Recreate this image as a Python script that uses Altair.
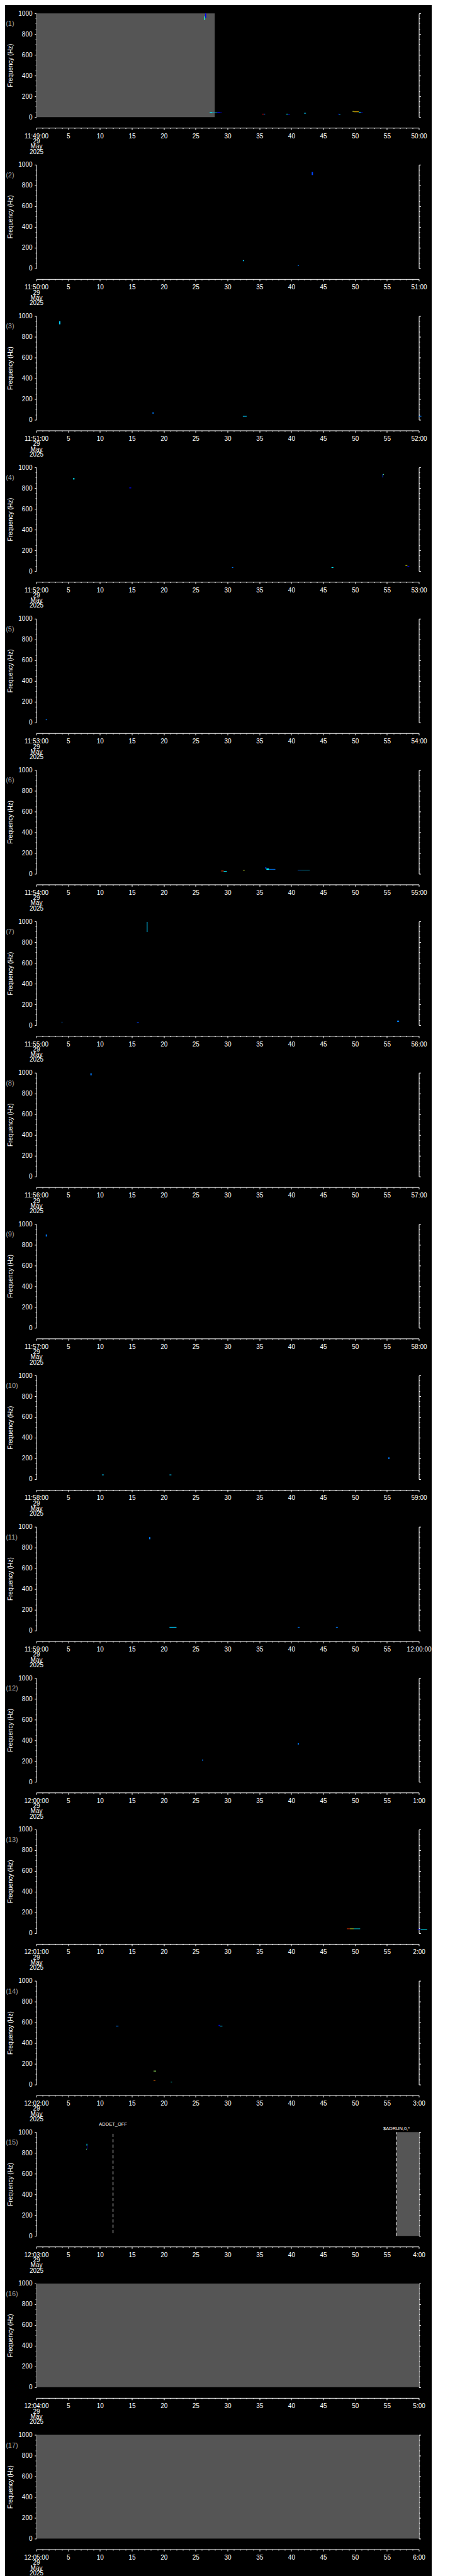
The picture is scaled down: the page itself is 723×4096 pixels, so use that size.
import json
import altair as alt
import pandas as pd

# ---------------- data ----------------
panel_starts = ["11:49:00", "11:50:00", "11:51:00", "11:52:00", "11:53:00", "11:54:00",
                "11:55:00", "11:56:00", "11:57:00", "11:58:00", "11:59:00", "12:00:00",
                "12:01:00", "12:02:00", "12:03:00", "12:04:00", "12:05:00"]
panel_ends = ["50:00", "51:00", "52:00", "53:00", "54:00", "55:00", "56:00", "57:00",
              "58:00", "59:00", "12:00:00", "1:00", "2:00", "3:00", "4:00", "5:00", "6:00"]
date_lines = ["29", "May", "2025"]

sec_ticks = list(range(0, 61))
freq_ticks = list(range(0, 1001, 50))

# grey = time span with data coverage
cover_panel = [1, 15, 16, 17]
cover_t0 = [0.0, 56.5, 0.0, 0.0]
cover_t1 = [28.0, 60.0, 60.0, 60.0]
cover_f0 = [0, 0, 0, 0]
cover_f1 = [1000, 1000, 1000, 1000]

# spectrogram specks: (panel, t0 [s], t1 [s], f0 [Hz], f1 [Hz], power level 0..1)
specks = [
    (1, 26.35, 26.50, 935, 970, 0.45), (1, 26.50, 26.65, 955, 1000, 0.12),
    (1, 27.20, 27.60, 40, 48, 0.35), (1, 27.60, 28.40, 38, 44, 0.30),
    (1, 28.40, 28.80, 42, 50, 0.10), (1, 28.80, 29.10, 38, 44, 0.12),
    (1, 35.40, 35.70, 26, 32, 0.90), (1, 35.70, 35.90, 26, 32, 0.20),
    (1, 39.20, 39.50, 26, 32, 0.40), (1, 39.50, 39.80, 22, 27, 0.12),
    (1, 42.00, 42.30, 34, 40, 0.30),
    (1, 47.30, 47.50, 26, 32, 0.12), (1, 47.50, 47.70, 22, 27, 0.30),
    (1, 49.60, 49.80, 52, 58, 0.60), (1, 49.80, 50.60, 48, 54, 0.70),
    (1, 50.60, 50.90, 44, 50, 0.35), (1, 50.90, 51.20, 44, 48, 0.12),
    (2, 43.20, 43.40, 900, 930, 0.15), (2, 32.40, 32.60, 70, 80, 0.30),
    (2, 41.00, 41.20, 25, 32, 0.20),
    (3, 3.60, 3.80, 920, 950, 0.30), (3, 18.20, 18.50, 60, 70, 0.20),
    (3, 32.40, 33.00, 30, 38, 0.30), (3, 60.00, 60.40, 30, 38, 0.20),
    (4, 5.80, 6.00, 883, 897, 0.35), (4, 14.60, 14.90, 798, 806, 0.12),
    (4, 30.70, 30.90, 31, 37, 0.20), (4, 46.30, 46.60, 31, 37, 0.35),
    (4, 54.30, 54.40, 903, 934, 0.15), (4, 54.40, 54.50, 928, 936, 0.50),
    (4, 57.90, 58.20, 52, 58, 0.62), (4, 58.20, 58.50, 44, 50, 0.12),
    (5, 1.50, 1.70, 22, 30, 0.20),
    (6, 29.00, 29.40, 24, 30, 0.85), (6, 29.40, 29.90, 20, 26, 0.35),
    (6, 32.40, 32.70, 32, 37, 0.60),
    (6, 35.90, 36.10, 50, 62, 0.15), (6, 36.10, 36.50, 38, 52, 0.35),
    (6, 36.50, 37.50, 40, 46, 0.20),
    (6, 41.00, 41.50, 33, 38, 0.20), (6, 41.50, 42.90, 34, 38, 0.30),
    (7, 17.35, 17.45, 897, 995, 0.30), (7, 4.00, 4.10, 20, 32, 0.20),
    (7, 15.80, 16.10, 22, 28, 0.15), (7, 56.60, 56.90, 30, 44, 0.20),
    (8, 8.50, 8.70, 975, 995, 0.20),
    (9, 1.50, 1.70, 880, 900, 0.20),
    (10, 10.30, 10.60, 38, 45, 0.30), (10, 20.90, 21.20, 38, 45, 0.30),
    (10, 55.20, 55.40, 195, 210, 0.20),
    (11, 17.70, 17.90, 880, 900, 0.20), (11, 20.90, 22.00, 28, 35, 0.30),
    (11, 41.00, 41.30, 28, 35, 0.20), (11, 47.00, 47.30, 28, 35, 0.20),
    (12, 26.00, 26.20, 205, 215, 0.20), (12, 41.00, 41.20, 360, 372, 0.20),
    (13, 48.70, 49.20, 40, 45, 0.85), (13, 49.20, 49.80, 40, 45, 0.60),
    (13, 49.80, 50.80, 40, 45, 0.35),
    (13, 59.80, 60.30, 36, 42, 0.12), (13, 60.30, 61.30, 32, 38, 0.35),
    (14, 12.50, 12.90, 560, 567, 0.20),
    (14, 28.60, 28.80, 565, 575, 0.12), (14, 28.80, 29.20, 560, 566, 0.30),
    (14, 18.40, 18.80, 127, 133, 0.55), (14, 18.40, 18.70, 37, 43, 0.80),
    (14, 21.10, 21.30, 21, 26, 0.40),
    (15, 7.90, 8.00, 870, 888, 0.35), (15, 8.00, 8.05, 835, 875, 0.12),
    (15, 7.85, 7.95, 833, 840, 0.50),
]

# event markers (panel 15)
event_panel = [15, 15]
event_t = [12.05, 56.5]
event_f0 = [26, 0]
event_f1 = [1000, 1000]
event_label = ["ADDET_OFF", "$ADRUN,0,*"]

# ---------------- style ----------------
S = 0.705
W = 862.5 * S
H = 234 * S
PITCH = 341.3 * S
FONT = "Liberation Sans"
GRAY = "#555555"
jet_dom = [0, 0.125, 0.375, 0.625, 0.875, 1.0]
jet_rng = ["#00008f", "#0000ff", "#00ffff", "#ffff00", "#ff0000", "#800000"]

cover_df = pd.DataFrame({"panel": cover_panel, "t0": cover_t0, "t1": cover_t1,
                         "f0": cover_f0, "f1": cover_f1})
speck_df = pd.DataFrame(specks, columns=["panel", "t0", "t1", "f0", "f1", "lvl"])
event_df = pd.DataFrame({"panel": event_panel, "t": event_t, "f0": event_f0,
                         "f1": event_f1, "label": event_label})


def make_panel(i):
    p = i + 1
    cov = cover_df[cover_df.panel == p].reset_index(drop=True)
    spk = speck_df[speck_df.panel == p].reset_index(drop=True)
    ev = event_df[event_df.panel == p].reset_index(drop=True)

    xs = alt.Scale(domain=[0, 60], nice=False, zero=False)
    ys = alt.Scale(domain=[0, 1000], nice=False, zero=False)

    first = json.dumps([panel_starts[i]] + date_lines)
    lab = (f"datum.value === 0 ? {first} : datum.value === 60 ? '{panel_ends[i]}' : "
           f"(datum.value % 5 === 0 ? '' + datum.value : '')")
    xaxis = alt.Axis(values=sec_ticks, labelExpr=lab, offset=17, title=None,
                     tickSize={"condition": {"test": "datum.value % 5 === 0", "value": 3},
                               "value": 1.5},
                     labelFlush=False, labelOverlap=False, labelBound=False,
                     labelPadding=5, labelLineHeight=8.3, labelBaseline="top",
                     grid=False)
    yleft = alt.Axis(values=freq_ticks, title="Frequency (Hz)",
                     labelExpr="datum.value % 200 === 0 ? '' + datum.value : ''",
                     tickSize={"condition": {"test": "datum.value % 200 === 0", "value": 2.8},
                               "value": 1.4},
                     labelOverlap=False, labelPadding=3.7, titlePadding=7, grid=False)
    yright = alt.Axis(values=freq_ticks, orient="right", labels=False, title=None,
                      tickSize={"condition": {"test": "datum.value % 200 === 0", "value": 2.8},
                                "value": 1.4},
                      grid=False)

    def X(field):
        return alt.X(field, scale=xs, axis=xaxis)

    layers = []
    layers.append(alt.Chart(cov).mark_rect(color=GRAY).encode(
        x=X("t0:Q"), x2="t1:Q",
        y=alt.Y("f0:Q", scale=ys, axis=yleft), y2="f1:Q"))
    layers.append(alt.Chart(spk).mark_rect().encode(
        x=X("t0:Q"), x2="t1:Q",
        y=alt.Y("f0:Q", scale=ys, axis=None), y2="f1:Q",
        color=alt.Color("lvl:Q", scale=alt.Scale(domain=jet_dom, range=jet_rng), legend=None)))
    if len(ev):
        layers.append(alt.Chart(ev).mark_rule(color="white", strokeDash=[5, 3.5], strokeWidth=1).encode(
            x=X("t:Q"),
            y=alt.Y("f0:Q", scale=ys, axis=None), y2="f1:Q"))
        for k, dy in [(0, -12.5), (1, -5.4)]:
            layers.append(alt.Chart(ev.iloc[[k]]).mark_text(
                color="white", font=FONT, fontSize=7.5, align="center", baseline="middle").encode(
                x=X("t:Q"), y=alt.value(dy), text="label:N"))
    layers.append(alt.Chart(pd.DataFrame({"lab": [f"({p})"]})).mark_text(
        color="#a0a0a0", font=FONT, fontSize=11, align="left", baseline="middle").encode(
        text="lab:N", x=alt.value(-48.3), y=alt.value(17)))
    layers.append(alt.Chart(pd.DataFrame({"f": freq_ticks})).mark_rule(opacity=0).encode(
        y=alt.Y("f:Q", scale=ys, axis=yright)))

    return alt.layer(*layers).resolve_scale(y="independent").properties(width=W, height=H)


panels = [make_panel(i) for i in range(17)]

chart = alt.vconcat(*panels, spacing=PITCH - H, bounds="flush").properties(
    background="black",
    padding={"left": 0.5, "top": 8.2, "right": 0, "bottom": 0},
).configure_axis(
    domainColor="white", tickColor="white", labelColor="white", titleColor="white",
    labelFont=FONT, titleFont=FONT, labelFontSize=10, titleFontSize=10,
    titleFontWeight="normal", domainWidth=1, tickWidth=1,
).configure_view(stroke=None)

chart.save("out.html", embed_options={"renderer": "svg", "actions": False})
